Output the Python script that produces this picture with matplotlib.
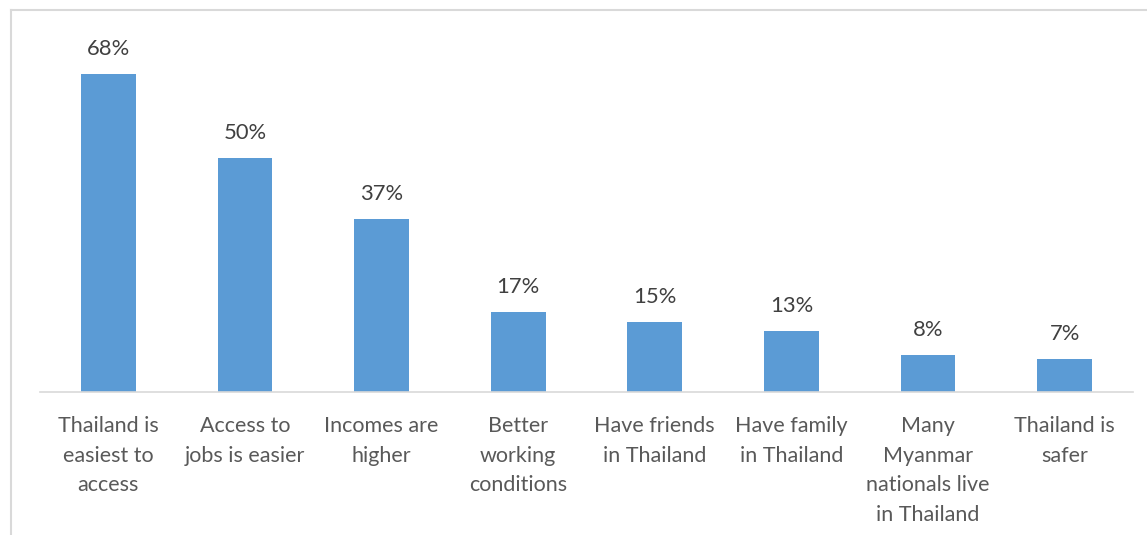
import matplotlib
matplotlib.use("Agg")
import matplotlib.pyplot as plt
from matplotlib.lines import Line2D

categories = ["Thailand is\neasiest to\naccess", "Access to\njobs is easier", "Incomes are\nhigher",
              "Better\nworking\nconditions", "Have friends\nin Thailand", "Have family\nin Thailand",
              "Many\nMyanmar\nnationals live\nin Thailand", "Thailand is\nsafer"]
values = [68, 50, 37, 17, 15, 13, 8, 7]
value_labels = ["68%", "50%", "37%", "17%", "15%", "13%", "8%", "7%"]

W, H = 1147, 535
fig = plt.figure(figsize=(W/100, H/100), dpi=100)
fig.patch.set_facecolor("white")
plt.rcParams['font.family'] = ['Lato', 'DejaVu Sans']

ax_l, ax_r, ax_b, ax_t = 40, 1133, 392, 50
ax = fig.add_axes([ax_l/W, (H-ax_b)/H, (ax_r-ax_l)/W, (ax_b-ax_t)/H])
scale = 4.68
ax.set_ylim(0, (ax_b-ax_t)/scale)
ax.set_xlim(-0.5, len(values)-0.5)
x = range(len(values))
ax.bar(x, values, width=0.40, color="#5B9BD5", zorder=2)
for xi, v, lab in zip(x, values, value_labels):
    ax.annotate(lab, (xi, v), xytext=(0, 25), textcoords="offset pixels",
                ha="center", va="center", fontsize=15.8, color="#404040")
ax.set_xticks(list(x))
ax.set_xticklabels(categories, fontsize=15.5, color="#595959", linespacing=1.62, va="top")
ax.tick_params(axis="x", length=0, pad=17)
ax.set_yticks([])
for s in ["top", "right", "left"]:
    ax.spines[s].set_visible(False)
ax.spines["bottom"].set_color("#D9D9D9")
ax.spines["bottom"].set_linewidth(1.2)

# outer chart frame
fig.add_artist(Line2D([11/W, 11/W], [0, 1-10/H], transform=fig.transFigure, color="#D9D9D9", lw=1.5))
fig.add_artist(Line2D([11/W, 1], [1-10/H, 1-10/H], transform=fig.transFigure, color="#D9D9D9", lw=1.5))

fig.savefig("out.png", dpi=100, facecolor="white")
